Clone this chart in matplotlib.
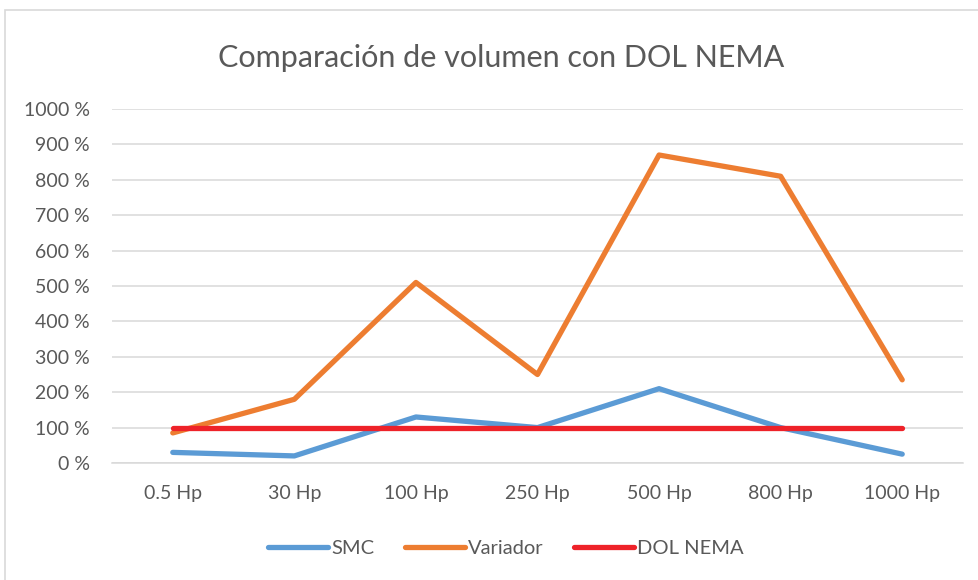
import matplotlib.pyplot as plt
from matplotlib.patches import Rectangle
import numpy as np

plt.rcParams["font.family"] = ["Lato", "DejaVu Sans"]

# ---- data ----
categories = ["0.5 Hp", "30 Hp", "100 Hp", "250 Hp", "500 Hp", "800 Hp", "1000 Hp"]
smc = [30, 20, 130, 100, 210, 100, 25]
variador = [85, 180, 510, 250, 870, 810, 235]
dol_nema = [100, 100, 100, 100, 100, 100, 100]
y_ticks = [0, 100, 200, 300, 400, 500, 600, 700, 800, 900, 1000]

text_gray = "#595959"
grid_gray = "#d9d9d9"

fig = plt.figure(figsize=(9.79, 5.80), dpi=100)

# chart-area border (right and bottom are cropped in the reference)
fig.patches.append(Rectangle((5 / 979, -0.1), 1.1, 1 - 10 / 580 + 0.1,
                             transform=fig.transFigure, fill=False,
                             edgecolor=grid_gray, linewidth=1.2))

ax = fig.add_axes([112 / 979, 1 - 463 / 580, (963 - 112) / 979, (463 - 109) / 580])

x = np.arange(len(categories))
ax.plot(x, smc, color="#5B9BD5", linewidth=3.8, solid_capstyle="round",
        solid_joinstyle="round", label="SMC", zorder=3)
ax.plot(x, variador, color="#ED7D31", linewidth=3.8, solid_capstyle="round",
        solid_joinstyle="round", label="Variador", zorder=4)
ax.plot(x, dol_nema, color="#EE2229", linewidth=3.8, solid_capstyle="round",
        solid_joinstyle="round", label="DOL NEMA", zorder=5)

ax.set_xlim(-0.5, len(categories) - 0.5)
ax.set_ylim(0, 1000)
ax.set_yticks(y_ticks)
ax.set_yticklabels([f"{v} %" for v in y_ticks])
ax.set_xticks(x)
ax.set_xticklabels(categories)
ax.grid(axis="y", color=grid_gray, linewidth=1.1)
ax.set_axisbelow(True)
for side in ["top", "right", "left"]:
    ax.spines[side].set_visible(False)
ax.spines["bottom"].set_color(grid_gray)
ax.spines["bottom"].set_linewidth(1.1)
ax.tick_params(length=0, colors=text_gray, labelsize=14)
ax.tick_params(axis="x", pad=16)
ax.tick_params(axis="y", pad=16)

fig.text(501 / 979, 1 - 58 / 580, "Comparación de volumen con DOL NEMA",
         ha="center", va="center", fontsize=22, color=text_gray)

leg = fig.legend(loc="center", bbox_to_anchor=(506 / 979, 1 - 548 / 580), ncol=3,
                 frameon=False, fontsize=14.5, handlelength=3.0,
                 columnspacing=1.5, handletextpad=0.15)
for t in leg.get_texts():
    t.set_color(text_gray)

fig.savefig("out.png", dpi=100)
